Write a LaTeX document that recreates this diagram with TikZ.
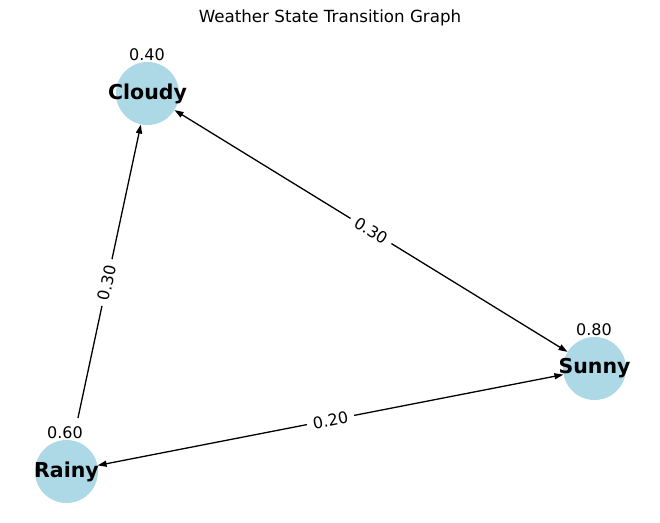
\documentclass[tikz,border=0pt]{standalone}
\usepackage{fontspec}
\setmainfont{DejaVu Sans}
\usetikzlibrary{arrows.meta}
\definecolor{nodeblue}{HTML}{ADD8E6}
\newcommand{\overtext}[1]{\makebox[0pt]{#1}}
\tikzset{
  state/.style={circle, fill=nodeblue, minimum size=63pt, inner sep=0pt, font=\fontsize{20.5}{21}\selectfont\bfseries},
  val/.style={font=\fontsize{16}{18}\selectfont, inner sep=0pt},
  edge/.style={line width=1.3pt, -{Triangle[length=9pt,width=6pt]}},
  bothedge/.style={line width=1.3pt, {Triangle[length=9pt,width=6pt]}-{Triangle[length=9pt,width=6pt]}},
  elabel/.style={font=\fontsize{16}{18}\selectfont, fill=white, inner xsep=6pt, inner ysep=2pt, sloped, midway},
}
\begin{document}
\begin{tikzpicture}[x=1pt, y=-1pt]
\useasboundingbox (0,0) rectangle (660,522);
\node[font=\fontsize{16.7}{20}\selectfont] (title) at (330,18) {Weather State Transition Graph};
\node[state] (cloudy) at (147.5,93.5) {\overtext{Cloudy}};
\node[state] (sunny) at (594.5,368.5) {\overtext{Sunny}};
\node[state] (rainy) at (66.5,471.5) {\overtext{Rainy}};
\draw[bothedge] (cloudy) -- node[elabel] {0.30} (sunny);
\draw[edge, shorten <=23pt] (rainy) -- node[elabel] {0.30} (cloudy);
\draw[bothedge] (rainy) -- node[elabel] {0.20} (sunny);
\node[val] (cv) at (147,55) {0.40};
\node[val] (sv) at (594,330) {0.80};
\node[val] (rv) at (65,433) {0.60};
\end{tikzpicture}
\end{document}
